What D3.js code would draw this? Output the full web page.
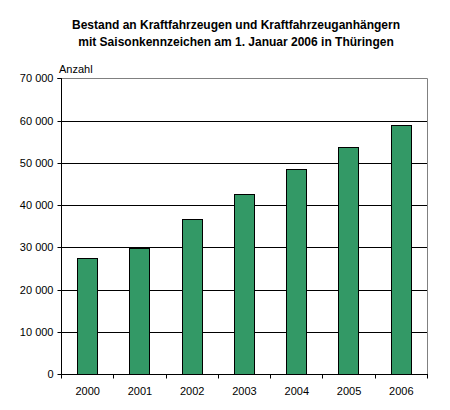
<!DOCTYPE html>
<html><head><meta charset="utf-8">
<script src="https://cdn.jsdelivr.net/npm/d3@7"></script>
<style>body{margin:0;background:#fff}svg{display:block}text{font-family:"Liberation Sans",Arial,sans-serif}</style>
</head><body>
<svg id="c" width="450" height="410"></svg>
<script>
const years = ["2000","2001","2002","2003","2004","2005","2006"];
const values = [27400, 29900, 36700, 42600, 48500, 53700, 58900];
const yTicks = [0,10000,20000,30000,40000,50000,60000,70000];
const titleLines = ["Bestand an Kraftfahrzeugen und Kraftfahrzeuganhängern","mit Saisonkennzeichen am 1. Januar 2006 in Thüringen"];
const yLabel = "Anzahl";

const svg = d3.select("#c");
const L = 61, R = 427, T = 78.3, B = 374.3;
const x = d3.scaleBand().domain(years).range([L, R]).paddingInner(0.61).paddingOuter(0.305);
const y = d3.scaleLinear().domain([0,70000]).range([B, T]);
const fmt = v => d3.format(",")(v).replace(/,/g," ");

// gridlines
svg.append("g").selectAll("line").data(yTicks.filter(d=>d>0 && d<70000)).join("line")
  .attr("x1",L).attr("x2",R).attr("y1",d=>Math.round(y(d))+0.5).attr("y2",d=>Math.round(y(d))+0.5)
  .attr("stroke","#000").attr("stroke-width",1);
// top & right border gray
svg.append("line").attr("x1",L).attr("x2",R+0.5).attr("y1",Math.round(T)+0.5).attr("y2",Math.round(T)+0.5).attr("stroke","#808080");
svg.append("line").attr("x1",R+0.5).attr("x2",R+0.5).attr("y1",Math.round(T)+0.5).attr("y2",Math.round(B)).attr("stroke","#808080");

// bars
svg.append("g").selectAll("rect").data(values).join("rect")
  .attr("x",(d,i)=>Math.round(x(years[i]))+0.5)
  .attr("y",d=>Math.round(y(d))+0.5)
  .attr("width",Math.round(x.bandwidth()))
  .attr("height",d=>Math.round(y(0))-Math.round(y(d)))
  .attr("fill","#339966").attr("stroke","#000").attr("stroke-width",1);

// y axis
const ya = d3.axisLeft(y).tickValues(yTicks).tickFormat(fmt).tickSize(4).tickPadding(4);
const gy = svg.append("g").attr("transform",`translate(${L+0.5},0.5)`).call(ya);
gy.select(".domain").attr("d",`M-4,${Math.round(T)}H0V${Math.round(B)}`);
gy.selectAll(".tick").attr("transform",d=>`translate(0,${Math.round(y(d))})`);
gy.selectAll("text").attr("font-size",11).attr("font-family","Liberation Sans, Arial, sans-serif").attr("fill","#000");
gy.selectAll("line,path").attr("stroke","#000");

// x axis with ticks at band boundaries
const xg = svg.append("g").attr("transform",`translate(0,${Math.round(B)+0.5})`);
xg.append("line").attr("x1",L).attr("x2",R+1).attr("stroke","#000");
const step = x.step();
const bounds = d3.range(years.length+1).map(i=>L + i*(R-L)/years.length);
xg.selectAll("line.t").data(bounds).join("line").attr("class","t")
  .attr("x1",d=>Math.round(d)+0.5).attr("x2",d=>Math.round(d)+0.5).attr("y1",0).attr("y2",4).attr("stroke","#000");
xg.selectAll("text").data(years).join("text")
  .attr("x",d=>x(d)+x.bandwidth()/2+0.5).attr("y",20).attr("text-anchor","middle")
  .attr("font-size",11).text(d=>d);

// y label
svg.append("text").attr("x",59).attr("y",73).attr("font-size",11).text(yLabel);

// title
svg.append("g").selectAll("text").data(titleLines).join("text")
  .attr("x",236).attr("y",(d,i)=>29+i*17).attr("text-anchor","middle")
  .attr("font-size",12).attr("font-weight","bold").text(d=>d);
</script>
</body></html>
